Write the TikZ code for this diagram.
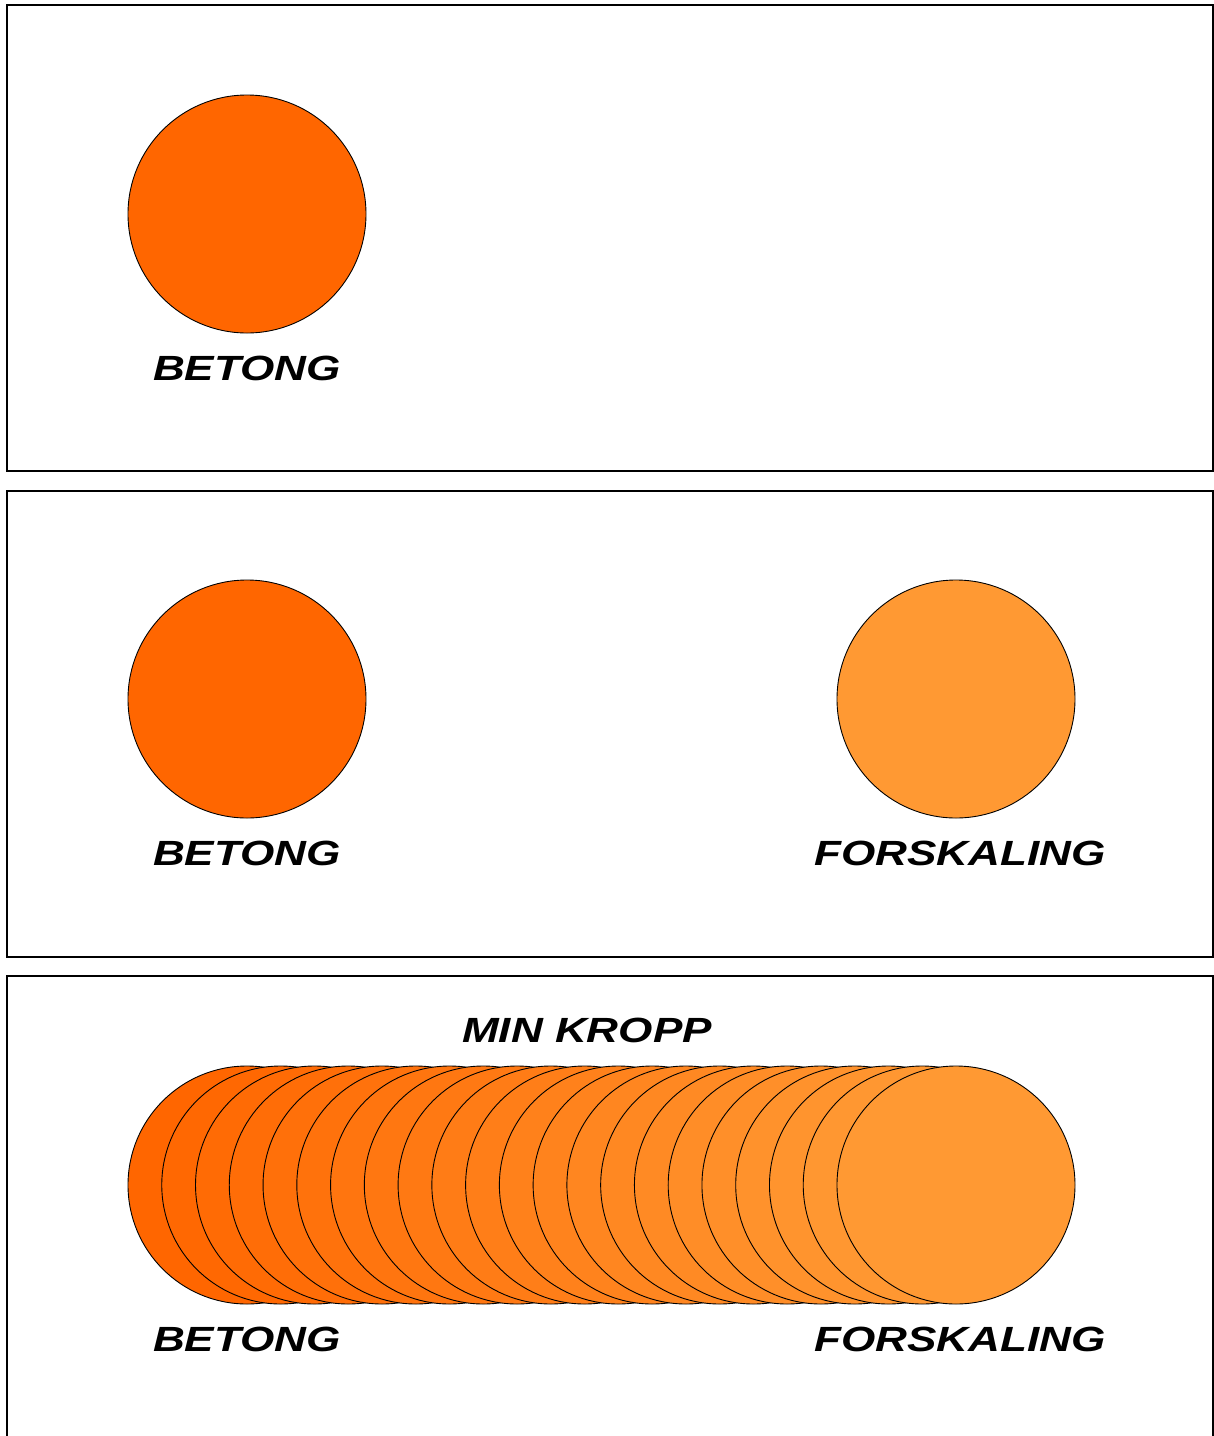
\documentclass[tikz,border=0pt]{standalone}
\usepackage{fontspec}
\newfontfamily\labelfont[FakeStretch=1.26]{Liberation Sans}
\usepackage{xcolor}
\usepackage{tikz}
\usetikzlibrary{positioning, calc}

\definecolor{betongcol}{HTML}{FF6600}
\definecolor{forskcol}{HTML}{FF9933}

\begin{document}
\begin{tikzpicture}[
  x=0.5pt, y=-0.5pt,
  % --- styles ---
  panel/.style={draw=black, line width=0.9pt},
  ball/.style={
    circle, draw=black, line width=0.45pt, inner sep=0pt,
    minimum size=119pt,
  },
  lbl/.style={font=\labelfont\bfseries\itshape\fontsize{17.5}{20}\selectfont,
    text=black, inner sep=0pt},
]
\useasboundingbox (0,0) rectangle (1214,1436);

% === Layout constants ===
\def\xl{247}      % left ball
\def\xr{956}      % right ball
\def\gap{11pt}    % ball to label

% ---------- Panel 1: Betong ----------
\draw[panel] (7,5) rectangle (1213,471);
\node[ball, fill=betongcol] (b1) at (\xl,214) {};
\node[lbl, below=\gap of b1.south] (b1lbl) {BETONG};

% ---------- Panel 2: Betong + Forskaling ----------
\draw[panel] (7,491) rectangle (1213,957);
\node[ball, fill=betongcol] (b2) at (\xl,699) {};
\node[ball, fill=forskcol] (f2) at (\xr,699) {};
\node[lbl, below=\gap of b2.south] (b2lbl) {BETONG};
\node[lbl, below=\gap of f2.south, xshift=2pt] (f2lbl) {FORSKALING};

% ---------- Panel 3: Min kropp ----------
\draw[panel] (7,976) rectangle (1213,1460);
\node[lbl] (kropp) at (587,1030) {MIN KROPP};

% 22 balls, betong -> forskaling
\foreach \i in {0,...,21}{
  \pgfmathsetmacro{\p}{100-100*\i/21}
  \node[ball, fill=betongcol!\p!forskcol] (k\i) at ({\xl+\i*(\xr-\xl)/21},1185) {};
}
\node[lbl, below=\gap of k0.south] (b3lbl) {BETONG};
\node[lbl, below=\gap of k21.south, xshift=2pt] (f3lbl) {FORSKALING};

\end{tikzpicture}
\end{document}
